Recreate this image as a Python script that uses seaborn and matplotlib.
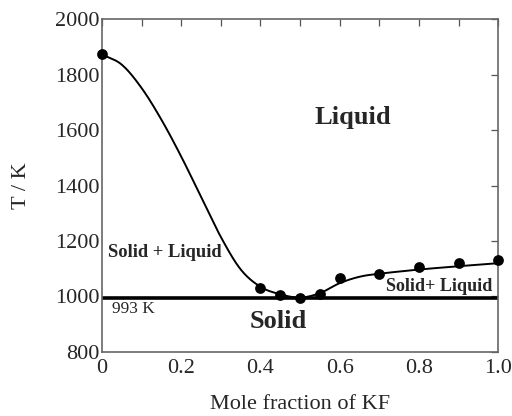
import numpy as np
import pandas as pd
import matplotlib
matplotlib.use("Agg")
import matplotlib.pyplot as plt
import seaborn as sns
from matplotlib.ticker import MultipleLocator

# Measured points
x_pts = [0.0, 0.4, 0.45, 0.5, 0.55, 0.6, 0.7, 0.8, 0.9, 1.0]
t_pts = [1874, 1031, 1007, 995, 1010, 1065, 1081, 1107, 1121, 1131]

# Liquidus curve
x_curve = [0.0, 0.05, 0.1, 0.15, 0.2, 0.25, 0.3, 0.35, 0.4, 0.45, 0.5, 0.55,
           0.6, 0.65, 0.7, 0.8, 0.9, 1.0]
t_curve = [1873, 1836, 1752, 1638, 1505, 1360, 1215, 1098, 1035, 1008, 996,
           1012, 1048, 1071, 1082, 1097, 1109, 1120]

eutectic_T = 993
x_ticks = [0, 0.2, 0.4, 0.6, 0.8, 1.0]
x_ticklabels = ["0", "0.2", "0.4", "0.6", "0.8", "1.0"]
y_ticks = [800, 1000, 1200, 1400, 1600, 1800, 2000]


def catmull_rom(xs, ys, n=20):
    xs = np.asarray(xs, float); ys = np.asarray(ys, float)
    P = np.column_stack([xs, ys])
    P = np.vstack([2 * P[0] - P[1], P, 2 * P[-1] - P[-2]])
    out = []
    for i in range(1, len(P) - 2):
        p0, p1, p2, p3 = P[i - 1], P[i], P[i + 1], P[i + 2]
        for t in np.linspace(0, 1, n, endpoint=False):
            t2, t3 = t * t, t * t * t
            pt = 0.5 * ((2 * p1) + (-p0 + p2) * t + (2 * p0 - 5 * p1 + 4 * p2 - p3) * t2
                        + (-p0 + 3 * p1 - 3 * p2 + p3) * t3)
            out.append(pt)
    out.append(P[-2])
    out = np.array(out)
    return out[:, 0], out[:, 1]


sns.set_style("white")
plt.rcParams['font.family'] = ['Liberation Serif', 'DejaVu Serif']

fig = plt.figure(figsize=(5.12, 4.16), dpi=100)
ax = fig.add_axes([0.199, 0.154, 0.774, 0.8])

sx, sy = catmull_rom(x_curve, t_curve)
curve_df = pd.DataFrame({"x": sx, "T": sy})
sns.lineplot(data=curve_df, x="x", y="T", sort=False, color="black", lw=1.4, ax=ax, estimator=None)

ax.plot([0, 1], [eutectic_T, eutectic_T], color="black", lw=2.6, solid_capstyle="butt")

pts_df = pd.DataFrame({"x": x_pts, "T": t_pts})
sns.scatterplot(data=pts_df, x="x", y="T", color="black", s=60, edgecolor="black",
                linewidth=0, ax=ax, zorder=5, clip_on=False)

ax.set_xlim(0, 1.0)
ax.set_ylim(800, 2000)
ax.set_xticks(x_ticks)
ax.set_xticklabels(x_ticklabels)
ax.set_yticks(y_ticks)
ax.xaxis.set_minor_locator(MultipleLocator(0.1))
ax.tick_params(axis="both", which="both", direction="in", top=True, right=True,
               labelsize=16, color="#555555", pad=2)
ax.tick_params(axis="both", which="both", length=5, width=0.9)
ax.tick_params(axis="x", which="major", pad=5)
for s in ax.spines.values():
    s.set_color("#666666")
    s.set_linewidth(1.2)

ax.set_xlabel("Mole fraction of KF", fontsize=16, labelpad=12)
ax.set_ylabel("T / K", fontsize=16, labelpad=17)

ax.text(0.633, 1647, "Liquid", fontsize=19, fontweight="bold", ha="center", va="center")
ax.text(0.158, 1158, "Solid + Liquid", fontsize=13.3, fontweight="bold", ha="center", va="center")
ax.text(0.851, 1036, "Solid+ Liquid", fontsize=13, fontweight="bold", ha="center", va="center")
ax.text(0.444, 910, "Solid", fontsize=19, fontweight="bold", ha="center", va="center")
ax.text(0.025, 955, "993 K", fontsize=12.5, ha="left", va="center")

fig.savefig("out.png", dpi=100)
